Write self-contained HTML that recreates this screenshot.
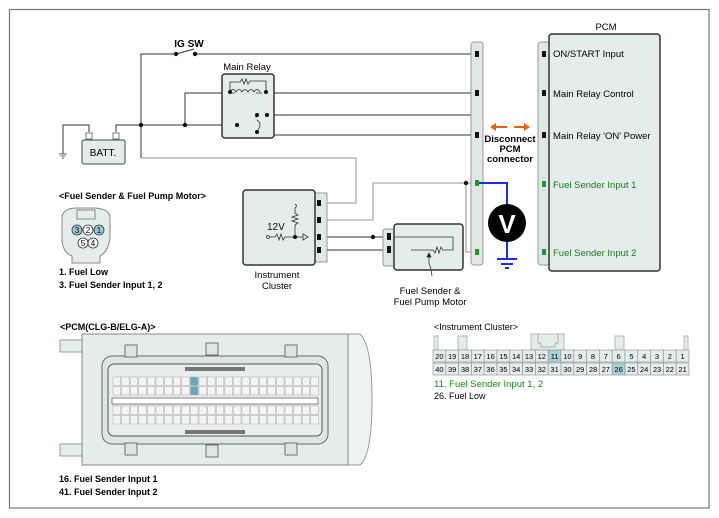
<!DOCTYPE html>
<html><head><meta charset="utf-8"><style>
html,body{margin:0;padding:0;background:#fff;}
svg{display:block;font-family:"Liberation Sans",Arial,sans-serif;}
</style></head><body>
<svg width="719" height="518" viewBox="0 0 719 518" xmlns="http://www.w3.org/2000/svg">
<rect x="9.5" y="9.5" width="699.5" height="498.5" fill="#fff" stroke="#777" stroke-width="1.2"/>

<!-- wires -->
<g stroke="#333" stroke-width="1" fill="none">
<path d="M141 158 V54 H176"/>
<path d="M195 54 H477"/>
<line x1="176" y1="54" x2="194" y2="49"/>
<path d="M63 154 V125 H89 V132"/>
<path d="M116 132 V125 H237"/>
<path d="M185 125 V93 H232"/>
<path d="M262 93 H477"/>
<path d="M262 115 H477"/>
<path d="M267 115 V135 H477"/>
<path d="M237 125 L256 117"/>
<path d="M256 115 V118"/>
<path d="M236 93 Q249 86 262 93"/>
<path d="M250 93 V116"/>
<path d="M321 237 H385"/>
<path d="M321 250 H385"/>
<path d="M395 237 H455 V250 H433"/>
<path d="M395 250 H443"/>
<path d="M411 250 V263 H431"/>
</g>
<g stroke="#aaa" stroke-width="1.3" fill="none">
<path d="M141 158 H356 V203 H321"/>
<path d="M321 220 H373 V183 H477"/>
<path d="M466 183 V252 H477"/>
</g>
<!-- dots -->
<g fill="#111">
<circle cx="176" cy="54" r="2.2"/><circle cx="195" cy="54" r="2.2"/>
<circle cx="141" cy="125" r="2.2"/><circle cx="185" cy="125" r="2.2"/>
<circle cx="466" cy="183" r="2.2"/><circle cx="373" cy="237" r="2.2"/>
<circle cx="411" cy="250" r="2.2"/><circle cx="429" cy="263" r="2.2"/>
</g>
<text x="189" y="47" font-size="10" font-weight="bold" text-anchor="middle">IG SW</text>

<!-- battery -->
<rect x="82" y="140" width="43" height="24" rx="2" fill="#e4ecec" stroke="#444"/>
<rect x="86" y="133" width="6" height="6" fill="#fff" stroke="#444" stroke-width=".7"/>
<rect x="113" y="133" width="6" height="6" fill="#fff" stroke="#444" stroke-width=".7"/>
<text x="103" y="156" font-size="10" text-anchor="middle">BATT.</text>
<g stroke="#444" stroke-width=".8"><line x1="59" y1="154" x2="67" y2="154"/><line x1="60.5" y1="156" x2="65.5" y2="156"/><line x1="62" y1="158" x2="64" y2="158"/></g>

<!-- main relay -->
<text x="247" y="70" font-size="9.5" text-anchor="middle">Main Relay</text>
<rect x="222" y="74" width="52" height="64" rx="3" fill="#e4ecec" stroke="#333" stroke-width="1.5"/>
<g stroke="#333" fill="none" stroke-width=".8">
<path d="M230 92 V82 H240 l2 -3 2 5 2 -5 2 5 2 -3 H266 V92"/>
<path d="M230 92 q3 -5 6 0 q3 -5 6 0 q3 -5 6 0 q3 -5 6 0 q3 -5 6 0"/>
<path d="M235 93 H230 M256 93 H262"/>
<path d="M256 115 V118 M257 120 q6 4 0 11"/>
</g>
<g fill="#111"><circle cx="230" cy="92" r="2"/><circle cx="266" cy="92" r="2"/><circle cx="237" cy="125" r="2"/><circle cx="257" cy="115" r="2"/><circle cx="267" cy="115" r="2"/><circle cx="257" cy="132" r="2"/></g>

<!-- instrument cluster -->
<rect x="315" y="193" width="12" height="69" fill="#dfe7e7" stroke="#999"/>
<rect x="243" y="190" width="72" height="75" rx="3" fill="#e4ecec" stroke="#333" stroke-width="1.5"/>
<g fill="#111"><rect x="317" y="200" width="4" height="6"/><rect x="317" y="217" width="4" height="6"/><rect x="317" y="234" width="4" height="6"/><rect x="317" y="247" width="4" height="6"/></g>
<text x="267" y="230" font-size="10" fill="#111">12V</text>
<g stroke="#333" fill="none" stroke-width=".8">
<circle cx="268" cy="237" r="1.5"/>
<path d="M270 237 h5 l2 -3 2 6 2 -6 2 6 2 -3 h10 l3 0"/>
<path d="M296 237 h7"/><path d="M303 234 l5 3 -5 3 z"/>
<path d="M295 237 V225 l3 -2 -6 -2 6 -2 -6 -2 6 -2 -3 -2 V208 q3 -2 0 -4"/>
</g>
<circle cx="295" cy="237" r="2" fill="#111"/>
<text x="277" y="278" font-size="9.5" text-anchor="middle">Instrument</text>
<text x="277" y="289" font-size="9.5" text-anchor="middle">Cluster</text>

<!-- fuel sender -->
<rect x="383" y="229" width="12" height="37" rx="2" fill="#dfe7e7" stroke="#999"/>
<rect x="394" y="224" width="69" height="46" rx="3" fill="#e4ecec" stroke="#333" stroke-width="1.5"/>
<g fill="#111"><rect x="387" y="233" width="4" height="7"/><rect x="387" y="246" width="4" height="7"/></g>
<g stroke="#333" fill="none" stroke-width=".8"><path d="M395 237 H453 V250 H443 l-2 -3 -2 6 -2 -6 -2 6 -2 -3 H411"/><path d="M429 263 V255"/><path d="M427 257 l2 -4 2 4z" fill="#111"/><path d="M429 263 q2 5 3 13"/></g>
<text x="430" y="294" font-size="9.5" text-anchor="middle">Fuel Sender &amp;</text>
<text x="430" y="305" font-size="9.5" text-anchor="middle">Fuel Pump Motor</text>

<!-- left connector column -->
<rect x="471" y="42" width="12" height="223" rx="3" fill="#dfe7e7" stroke="#999"/>
<g fill="#111"><rect x="475" y="51" width="4" height="6"/><rect x="475" y="90" width="4" height="6"/><rect x="475" y="132" width="4" height="6"/></g>
<g fill="#1a9a2a"><rect x="475" y="180" width="4" height="6"/><rect x="475" y="249" width="4" height="6"/></g>

<!-- voltmeter -->
<path d="M479 183 H507 V258" stroke="#1a2ee8" stroke-width="2" fill="none"/>
<circle cx="507" cy="223" r="19" fill="#000"/>
<text x="507" y="233" font-size="26" font-weight="bold" fill="#fff" text-anchor="middle">V</text>
<g stroke="#1a2ee8" stroke-width="2"><line x1="497" y1="259" x2="517" y2="259"/><line x1="501" y1="264" x2="513" y2="264"/><line x1="505" y1="268" x2="509" y2="268"/></g>

<!-- disconnect -->
<g stroke="#f06010" stroke-width="2" fill="#f06010">
<line x1="494" y1="127" x2="507" y2="127"/><path d="M490 127 l6 -4 v8z" stroke="none"/>
<line x1="514" y1="127" x2="526" y2="127"/><path d="M530 127 l-6 -4 v8z" stroke="none"/>
</g>
<g font-size="9.5" font-weight="bold" text-anchor="middle"><text x="510" y="142">Disconnect</text><text x="510" y="152">PCM</text><text x="510" y="162">connector</text></g>

<!-- PCM -->
<text x="606" y="30" font-size="9.5" text-anchor="middle">PCM</text>
<rect x="538" y="42" width="12" height="223" rx="3" fill="#dfe7e7" stroke="#999"/>
<rect x="549" y="34" width="111" height="237" rx="3" fill="#e4ecec" stroke="#333" stroke-width="1.5"/>
<g fill="#111"><rect x="542" y="51" width="4" height="6"/><rect x="542" y="90" width="4" height="6"/><rect x="542" y="132" width="4" height="6"/></g>
<g fill="#1a9a2a"><rect x="542" y="181" width="4" height="6"/><rect x="542" y="249" width="4" height="6"/></g>
<g font-size="9.5"><text x="553" y="57">ON/START Input</text><text x="553" y="97">Main Relay Control</text><text x="553" y="139">Main Relay 'ON' Power</text>
<text x="553" y="188" fill="#1a7a1a">Fuel Sender Input 1</text><text x="553" y="256" fill="#1a7a1a">Fuel Sender Input 2</text></g>

<!-- fuel connector -->
<text x="59" y="199" font-size="9" font-weight="bold">&lt;Fuel Sender &amp; Fuel Pump Motor&gt;</text>
<path d="M62 218 Q62 209 75 208 H95 Q110 209 110 218 V238 Q108 252 100 256 V263 H72 V256 Q62 252 62 238 Z" fill="#e4ecec" stroke="#888"/>
<rect x="77" y="210" width="18" height="9" fill="#e4ecec" stroke="#888"/>
<g stroke="#333" stroke-width=".8" font-size="8" text-anchor="middle">
<circle cx="77" cy="230" r="5" fill="#9cc9d6"/><circle cx="88" cy="230" r="5" fill="#fff"/><circle cx="99" cy="230" r="5" fill="#9cc9d6"/>
<circle cx="83" cy="243" r="5" fill="#fff"/><circle cx="93" cy="243" r="5" fill="#fff"/>
</g>
<g font-size="8" text-anchor="middle"><text x="77" y="233">3</text><text x="88" y="233">2</text><text x="99" y="233">1</text><text x="83" y="246">5</text><text x="93" y="246">4</text></g>
<g font-size="9" font-weight="bold"><text x="59" y="275">1. Fuel Low</text><text x="59" y="288">3. Fuel Sender Input 1, 2</text></g>

<!-- PCM connector drawing -->
<text x="60" y="330" font-size="9" font-weight="bold">&lt;PCM(CLG-B/ELG-A)&gt;</text>
<path d="M348 334 H360 Q372 345 372 400 Q372 455 360 465 H348 Z" fill="#eef2f2" stroke="#999"/>
<rect x="60" y="340" width="22" height="12" fill="#e4ecec" stroke="#999"/>
<rect x="60" y="444" width="22" height="12" fill="#e4ecec" stroke="#999"/>
<rect x="82" y="334" width="266" height="131" fill="#e4ecec" stroke="#888"/>
<rect x="102" y="356" width="226" height="88" rx="10" fill="#dde5e5" stroke="#666"/>
<rect x="108" y="364" width="214" height="72" rx="6" fill="#e8eeee" stroke="#555"/>
<g fill="#dde5e5" stroke="#555" stroke-width=".8">
<rect x="125" y="345" width="12" height="12"/><rect x="206" y="343" width="12" height="12"/><rect x="285" y="345" width="12" height="12"/>
<rect x="125" y="443" width="12" height="12"/><rect x="206" y="445" width="12" height="12"/><rect x="285" y="443" width="12" height="12"/>
</g>
<rect x="185" y="367" width="60" height="4" fill="#777"/>
<rect x="185" y="430" width="60" height="4" fill="#777"/>
<rect x="112" y="398" width="206" height="6" fill="#fff" stroke="#555" stroke-width=".7"/>
<g id="cells" fill="#f4f4f4" stroke="#aaa" stroke-width=".5">
<!-- generated -->
</g>
<script>
(function(){var g=document.getElementById('cells');var ns='http://www.w3.org/2000/svg';var ys=[377,386.5,406,415.5];
for(var r=0;r<4;r++){for(var c=0;c<24;c++){var e=document.createElementNS(ns,'rect');e.setAttribute('x',113+c*8.6);e.setAttribute('y',ys[r]);e.setAttribute('width',7.6);e.setAttribute('height',8.5);
if(r<2&&c==9)e.setAttribute('fill','#6aa8c0');g.appendChild(e);}}})();
</script>
<g font-size="9" font-weight="bold"><text x="59" y="482">16. Fuel Sender Input 1</text><text x="59" y="495">41. Fuel Sender Input 2</text></g>

<!-- instrument cluster connector -->
<text x="434" y="330" font-size="9">&lt;Instrument Cluster&gt;</text>
<g fill="#e4ecec" stroke="#aaa" stroke-width=".8">
<rect x="434" y="336" width="4" height="14"/><rect x="458" y="336" width="9" height="14"/>
<rect x="531" y="334" width="33" height="16"/><rect x="615" y="336" width="9" height="14"/><rect x="684" y="336" width="4" height="14"/>
</g>
<path d="M538 334 V343 H541 V347 H555 V343 H558 V334" fill="none" stroke="#999" stroke-width=".7"/>
<g id="ic" font-size="7.5" text-anchor="middle"></g>
<script>
(function(){var g=document.getElementById('ic');var ns='http://www.w3.org/2000/svg';
for(var r=0;r<2;r++){for(var c=0;c<20;c++){var n=r==0?20-c:40-c;var x=433+c*12.8,y=r==0?350:363;
var e=document.createElementNS(ns,'rect');e.setAttribute('x',x);e.setAttribute('y',y);e.setAttribute('width',12.8);e.setAttribute('height',12);
e.setAttribute('fill',(n==11||n==26)?'#a6cfd8':'#e4ecec');e.setAttribute('stroke','#999');e.setAttribute('stroke-width','.7');g.appendChild(e);
var t=document.createElementNS(ns,'text');t.setAttribute('x',x+6.4);t.setAttribute('y',y+9);t.textContent=n;g.appendChild(t);}}})();
</script>
<text x="434" y="387" font-size="9.5" fill="#1a8a1a">11. Fuel Sender Input 1, 2</text>
<text x="434" y="399" font-size="9">26. Fuel Low</text>
</svg>
</body></html>
